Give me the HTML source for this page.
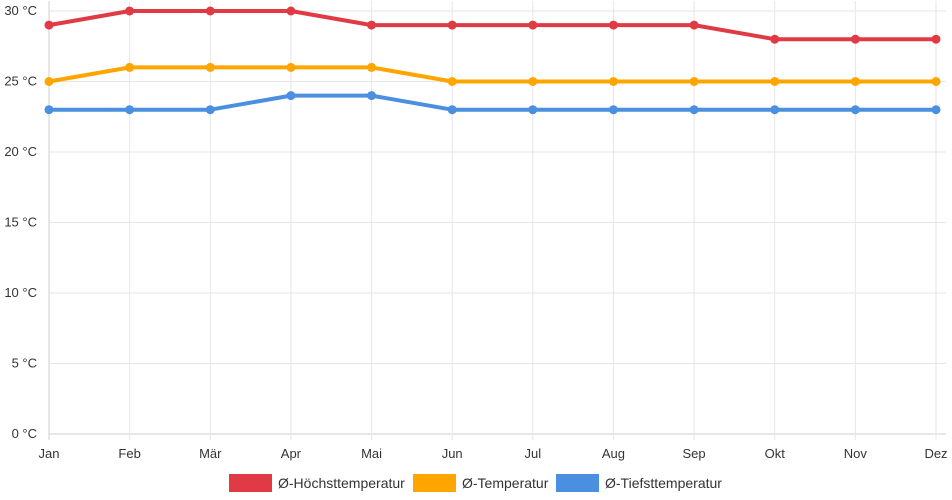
<!DOCTYPE html>
<html><head><meta charset="utf-8">
<style>
html,body{margin:0;padding:0;background:#fff;}
svg{display:block;font-family:"Liberation Sans",sans-serif;}
</style></head>
<body>
<svg id="chart" width="952" height="500" viewBox="0 0 952 500">
<g id="grid"></g><g id="series"></g><g id="legend"></g>
</svg>
<script>
const months = ["Jan","Feb","Mär","Apr","Mai","Jun","Jul","Aug","Sep","Okt","Nov","Dez"];
const highTemps = [29,30,30,30,29,29,29,29,29,28,28,28];
const avgTemps = [25,26,26,26,26,25,25,25,25,25,25,25];
const lowTemps = [23,23,23,24,24,23,23,23,23,23,23,23];
const yTicks = [0,5,10,15,20,25,30];
const seriesNames = ["Ø-Höchsttemperatur","Ø-Temperatur","Ø-Tiefsttemperatur"];

const NS="http://www.w3.org/2000/svg";
const x0=49,x1=936,yTop=11,yBot=434,yMax=30;
const xs=i=>x0+(x1-x0)*i/(months.length-1);
const ys=v=>yBot-(yBot-yTop)*v/yMax;
function mk(tag,attrs,parent){const e=document.createElementNS(NS,tag);for(const k in attrs)e.setAttribute(k,attrs[k]);parent.appendChild(e);return e;}
const grid=document.getElementById('grid');
yTicks.forEach(t=>{
  const l=mk('line',{x1:x0,x2:x1+10,y1:ys(t),y2:ys(t),stroke:t===0?'#cfcfcf':'#e6e6e6','stroke-width':1},grid);
  
  
  const tx=mk('text',{x:37,y:ys(t)+4,'text-anchor':'end','font-size':13,fill:'#333'},grid);
  tx.textContent=t+' °C';
  
  
});
months.forEach((m,i)=>{
  const l=mk('line',{x1:xs(i),x2:xs(i),y1:yTop-10,y2:yBot+6,stroke:i===0?'#cfcfcf':'#e6e6e6','stroke-width':1},grid);
  
  
  const tx=mk('text',{x:xs(i),y:458,'text-anchor':'middle','font-size':13,fill:'#333'},grid);
  tx.textContent=m;
  
  
});
const sg=document.getElementById('series');
const colors=["#e03a45","#ffa500","#4a8fe0"];
[highTemps,avgTemps,lowTemps].forEach((arr,s)=>{
  const pts=arr.map((v,i)=>xs(i)+','+ys(v)).join(' ');
  const pl=mk('polyline',{points:pts,fill:'none',stroke:colors[s],'stroke-width':4,'stroke-linejoin':'round'},sg);
  
  
  arr.forEach((v,i)=>{
    const c=mk('circle',{cx:xs(i),cy:ys(v),r:4.5,fill:colors[s]},sg);
    
    
  });
});
const lg=document.getElementById('legend');
const lx=[229,413,556];
seriesNames.forEach((n,s)=>{
  const r=mk('rect',{x:lx[s],y:474,width:43,height:18,fill:colors[s]},lg);
  
  
  const t=mk('text',{x:lx[s]+49,y:488,'font-size':14,fill:'#333'},lg);
  t.textContent=n;
  
  
});
</script>
</body></html>
